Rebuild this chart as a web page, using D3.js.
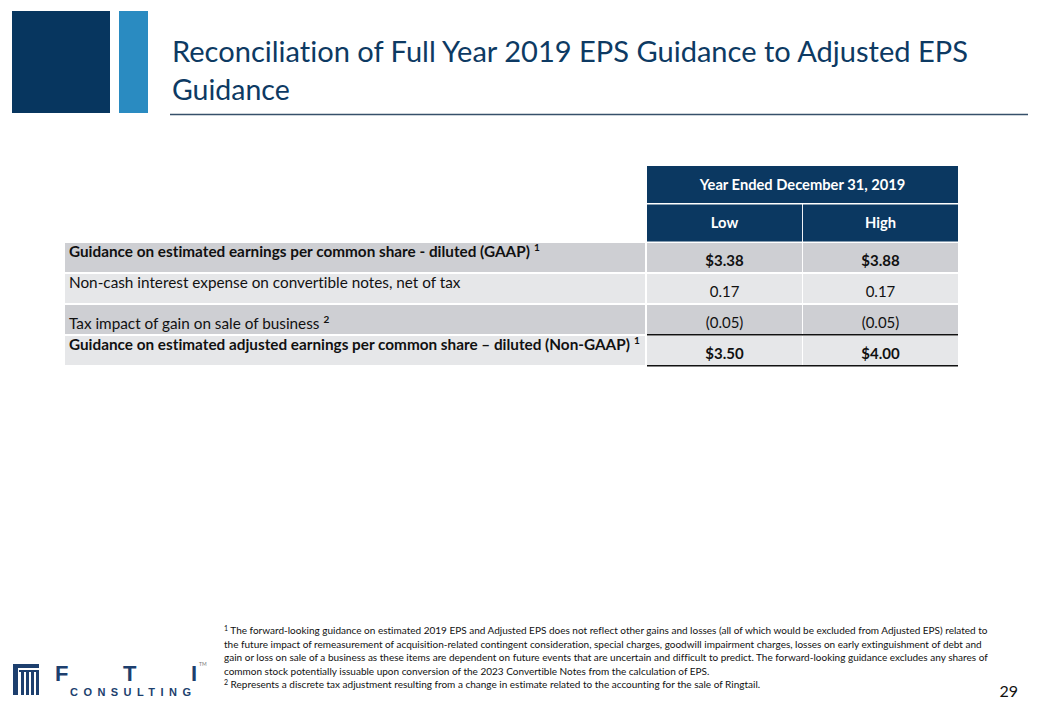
<!DOCTYPE html>
<html><head><meta charset="utf-8">
<script src="https://cdn.jsdelivr.net/npm/d3@7"></script>
<style>html,body{margin:0;padding:0;background:#fff;}svg{display:block;}svg text{font-variant-ligatures:none;font-feature-settings:"liga" 0,"clig" 0;}</style>
</head><body>
<script>
// ---- data ----
const titleLines = ["Reconciliation of Full Year 2019 EPS Guidance to Adjusted EPS", "Guidance"];
const periodHeader = "Year Ended December 31, 2019";
const columns = ["Low", "High"];
const rowLabels = [
  "Guidance on estimated earnings per common share - diluted (GAAP)",
  "Non-cash interest expense on convertible notes, net of tax",
  "Tax impact of gain on sale of business",
  "Guidance on estimated adjusted earnings per common share \u2013 diluted (Non-GAAP)"
];
const rowNotes = ["1", "", "2", "1"];
const rowBold = [true, false, false, true];
const lowValues = ["$3.38", "0.17", "(0.05)", "$3.50"];
const highValues = ["$3.88", "0.17", "(0.05)", "$4.00"];
const footnotes = [
  ["1", " The forward-looking guidance on estimated 2019 EPS and Adjusted EPS does not reflect other gains and losses (all of which would be excluded from Adjusted EPS) related to"],
  ["", "the future impact of remeasurement of acquisition-related contingent consideration, special charges, goodwill impairment charges, losses on early extinguishment of debt and"],
  ["", "gain or loss on sale of a business as these items are dependent on future events that are uncertain and difficult to predict. The forward-looking guidance excludes any shares of"],
  ["", "common stock potentially issuable upon conversion of the 2023 Convertible Notes from the calculation of EPS."],
  ["2", " Represents a discrete tax adjustment resulting from a change in estimate related to the accounting for the sale of Ringtail."]
];
const pageNumber = "29";

// ---- drawing ----
const W = 1040, H = 720;
const navy = "#0b3861", blue = "#2a8bc1", gray = "#cecfd3", light = "#e6e7e9";
const font = "Lato, 'Open Sans', sans-serif";
const svg = d3.select("body").append("svg").attr("width", W).attr("height", H).style("font-family", font);

// header blocks
svg.append("rect").attr("x", 12).attr("y", 11).attr("width", 98).attr("height", 102).attr("fill", "#07365f");
svg.append("rect").attr("x", 119).attr("y", 11).attr("width", 29).attr("height", 102).attr("fill", blue);

// title
svg.append("g").selectAll("text").data(titleLines).join("text")
  .attr("x", 172).attr("y", (d, i) => 62 + i * 38)
  .attr("fill", "#0d3a63").attr("font-size", 28.5)
  .attr("textLength", (d, i) => i === 0 ? 796 : null)
  .attr("lengthAdjust", "spacingAndGlyphs")
  .text(d => d);
svg.append("line").attr("x1", 170).attr("x2", 1028).attr("y1", 114.5).attr("y2", 114.5)
  .attr("stroke", "#36506a").attr("stroke-width", 1.6);

// table scales
const labelX0 = 65, labelX1 = 645;
const x = d3.scaleBand().domain(columns).range([647, 958]).paddingInner(0.006);
const y = d3.scaleBand().domain(d3.range(rowLabels.length)).range([243, 365]).paddingInner(0.065).paddingOuter(0.0);

// header cells
svg.append("rect").attr("x", 647).attr("y", 166).attr("width", 311).attr("height", 37).attr("fill", navy);
svg.append("text").attr("x", 802.5).attr("y", 190).attr("text-anchor", "middle")
  .attr("fill", "#fff").attr("font-weight", "bold").attr("font-size", 14.7).text(periodHeader);
const hdr = svg.append("g").selectAll("g").data(columns).join("g");
hdr.append("rect").attr("x", d => x(d)).attr("y", 204.5).attr("width", x.bandwidth()).attr("height", 37).attr("fill", navy);
hdr.append("text").attr("x", d => x(d) + x.bandwidth() / 2).attr("y", 228).attr("text-anchor", "middle")
  .attr("fill", "#fff").attr("font-weight", "bold").attr("font-size", 14.7).text(d => d);

// rows
const rows = svg.append("g").selectAll("g").data(rowLabels).join("g");
rows.append("rect").attr("x", labelX0).attr("y", (d, i) => y(i)).attr("width", labelX1 - labelX0)
  .attr("height", y.bandwidth()).attr("fill", (d, i) => i % 2 === 0 ? gray : light);
rows.each(function (d, i) {
  const g = d3.select(this);
  columns.forEach(c => {
    g.append("rect").attr("x", x(c)).attr("y", y(i)).attr("width", x.bandwidth()).attr("height", y.bandwidth())
      .attr("fill", i % 2 === 0 ? gray : light);
    const v = c === "Low" ? lowValues[i] : highValues[i];
    g.append("text").attr("x", x(c) + x.bandwidth() / 2).attr("y", y(i) + y.bandwidth() - 6)
      .attr("text-anchor", "middle").attr("font-size", 15).attr("fill", "#111")
      .attr("font-weight", rowBold[i] ? "bold" : "normal").text(v);
  });
  const ty = i === 2 ? y(i) + y.bandwidth() - 5 : y(i) + 14;
  const t = g.append("text").attr("x", 69).attr("y", ty).attr("font-size", 15.3).attr("fill", "#111")
    .attr("font-weight", rowBold[i] ? "bold" : "normal");
  t.append("tspan").text(d);
  if (rowNotes[i]) t.append("tspan").attr("dx", 4).attr("dy", -6).attr("font-size", 10).attr("font-weight", "bold").text(rowNotes[i]);
});
// rule lines under values
[2, 3].forEach(i => {
  svg.append("line").attr("x1", 647).attr("x2", 958).attr("y1", y(i) + y.bandwidth() + 0.8).attr("y2", y(i) + y.bandwidth() + 0.8)
    .attr("stroke", "#111").attr("stroke-width", 1.6);
});

// footnotes
svg.append("g").selectAll("text").data(footnotes).join("text")
  .attr("x", 224).attr("y", (d, i) => 634 + i * 13.6)
  .attr("font-size", 10).attr("fill", "#111")
  .each(function (d) {
    const t = d3.select(this);
    if (d[0]) t.append("tspan").attr("font-size", 7).attr("dy", -3).text(d[0]);
    t.append("tspan").attr("dy", d[0] ? 3 : 0).text(d[1]);
  });

svg.append("text").attr("x", 1018).attr("y", 697).attr("text-anchor", "end").attr("font-size", 16).attr("fill", "#111").text(pageNumber);

// logo
const logo = svg.append("g").attr("fill", "#1d3f6e");
logo.append("rect").attr("x", 13).attr("y", 664).attr("width", 26).attr("height", 4);
logo.append("rect").attr("x", 13).attr("y", 664).attr("width", 5).attr("height", 31);
d3.range(4).forEach(k => logo.append("rect").attr("x", 21 + k * 5).attr("y", 672).attr("width", 3).attr("height", 23));
logo.append("rect").attr("x", 19).attr("y", 670).attr("width", 20).attr("height", 2);
logo.append("text").attr("x", 55).attr("y", 681).attr("font-size", 22).attr("font-weight", "bold")
  .attr("font-family", "'Liberation Sans', Arial, sans-serif").attr("textLength", 142).attr("lengthAdjust", "spacing").text("F T I");
logo.append("text").attr("x", 70).attr("y", 696).attr("font-size", 11).attr("font-weight", "bold")
  .attr("font-family", "'Liberation Sans', Arial, sans-serif").attr("textLength", 121).attr("lengthAdjust", "spacing").text("CONSULTING");
logo.append("text").attr("x", 199).attr("y", 666).attr("font-size", 5).attr("fill", "#777").text("TM");
</script>
</body></html>
